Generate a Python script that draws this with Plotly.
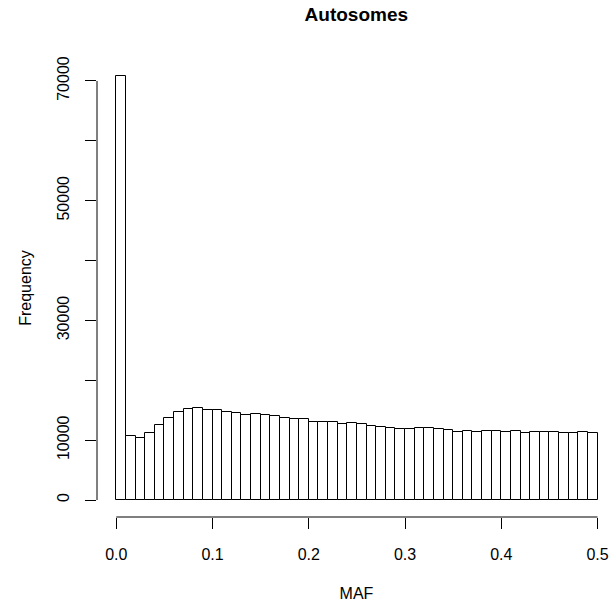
import plotly.graph_objects as go

# MAF histogram: 50 bins of width 0.01 over [0, 0.5]
bin_width = 0.01
bin_starts = [round(i * bin_width, 2) for i in range(50)]
counts = [
    70830, 10690, 10410, 11250, 12530, 13700, 14700, 15250, 15370, 15090,
    15030, 14700, 14530, 14200, 14320, 14250, 13980, 13650, 13530, 13480,
    13030, 13080, 12980, 12650, 12810, 12650, 12310, 12250, 11970, 11920,
    11920, 12080, 12080, 11860, 11640, 11410, 11530, 11300, 11580, 11470,
    11360, 11470, 11140, 11300, 11360, 11300, 11250, 11250, 11360, 11250,
]
x_ticks = [0.0, 0.1, 0.2, 0.3, 0.4, 0.5]
x_tick_labels = ["0.0", "0.1", "0.2", "0.3", "0.4", "0.5"]
y_ticks = [0, 10000, 20000, 30000, 40000, 50000, 60000, 70000]
# every other y tick carries a label
y_labelled = [0, 10000, 30000, 50000, 70000]

FONT = "Liberation Sans"

bin_mids = [s + bin_width / 2 for s in bin_starts]

fig = go.Figure()
fig.add_trace(go.Bar(
    x=bin_mids,
    y=counts,
    width=bin_width,
    marker=dict(color="white", line=dict(color="black", width=1)),
    hoverinfo="skip",
))

# R-style axes: the lines only span the tick range
fig.add_shape(type="line", xref="x", yref="paper", x0=0, x1=0.5, y0=0, y1=0,
              line=dict(color="black", width=1))
fig.add_shape(type="line", xref="paper", yref="y", x0=0, x1=0, y0=0, y1=70000,
              line=dict(color="black", width=1))

fig.update_layout(
    width=616, height=608,
    margin=dict(l=97, r=0, t=59, b=91),
    paper_bgcolor="white", plot_bgcolor="white",
    showlegend=False,
    bargap=0,
    title=dict(text="<b>Autosomes</b>", x=0.5785, xanchor="center",
               y=1 - 14 / 608, yanchor="middle",
               font=dict(family=FONT, size=19, color="black")),
    font=dict(family=FONT, size=16, color="black"),
)
fig.update_xaxes(
    range=[-0.02, 0.5192], showgrid=False, zeroline=False, showline=False,
    tickmode="array", tickvals=x_ticks, ticktext=x_tick_labels,
    ticks="outside", ticklen=11, tickwidth=1, tickcolor="black",
    ticklabelstandoff=12,
    tickfont=dict(family=FONT, size=16, color="black"),
    title=dict(text="MAF", font=dict(family=FONT, size=16, color="black"), standoff=25),
)
fig.update_yaxes(
    range=[-2833, 73663], showgrid=False, zeroline=False, showline=False,
    tickmode="array", tickvals=y_ticks,
    ticktext=[str(v) if v in y_labelled else "" for v in y_ticks],
    ticks="outside", ticklen=11, tickwidth=1, tickcolor="black",
    tickangle=-90, ticklabelstandoff=10,
    tickfont=dict(family=FONT, size=16, color="black"),
    title=dict(text="Frequency", font=dict(family=FONT, size=16, color="black"), standoff=18),
)

fig.write_html("out.html")
